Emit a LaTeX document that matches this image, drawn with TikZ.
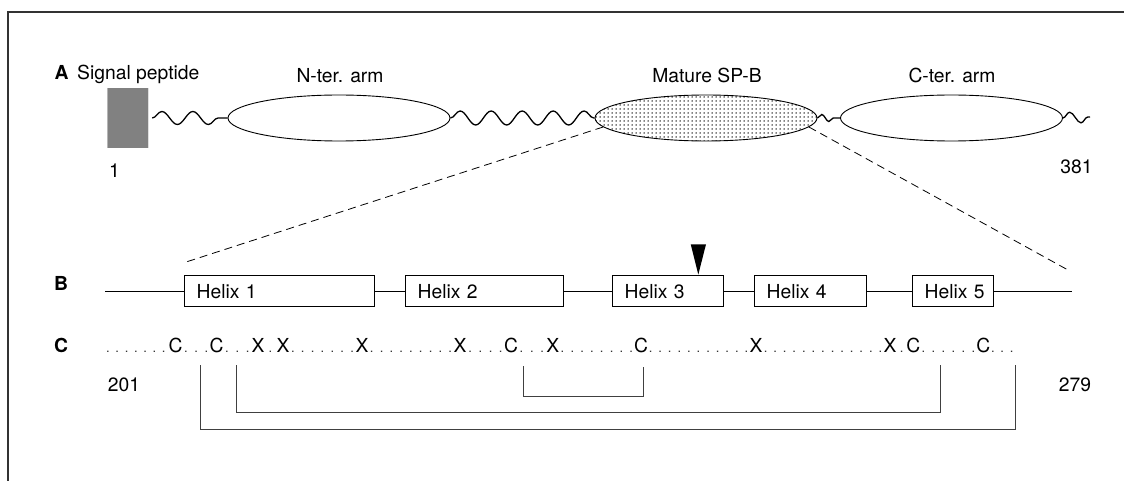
\documentclass[tikz,border=0pt]{standalone}
\usepackage{fontspec}
\setmainfont{TeX Gyre Heros}
\usetikzlibrary{shapes.geometric,patterns,decorations.pathmorphing}
\pgfdeclarepatternformonly{sparsedots}{\pgfqpoint{-1pt}{-1pt}}{\pgfqpoint{1pt}{1pt}}{\pgfqpoint{4pt}{4pt}}{\pgfpathcircle{\pgfqpoint{0pt}{0pt}}{0.75pt}\pgfusepath{fill}}
\pgfdeclarepatternformonly{densedots}{\pgfqpoint{-1pt}{-1pt}}{\pgfqpoint{1pt}{1pt}}{\pgfqpoint{2pt}{2pt}}{\pgfpathcircle{\pgfqpoint{0pt}{0pt}}{0.85pt}\pgfusepath{fill}}
\tikzset{
  lab/.style={font=\fontsize{19.3}{22}\selectfont, inner sep=0pt, anchor=base},
  dotc/.style={font=\fontsize{13}{15}\selectfont, text=black!80, inner sep=0pt, anchor=base},
  sec/.style={font=\fontsize{19.3}{22}\selectfont\bfseries, inner sep=0pt, anchor=base},
  arm/.style={ellipse, draw, line width=0.9pt, minimum width=222pt, minimum height=46pt, inner sep=0pt},
  helix/.style={draw, line width=1.3pt, minimum height=31pt, inner ysep=0pt, inner xsep=0pt,
    anchor=west, align=left, font=\fontsize{19.3}{22}\selectfont},
  thin/.style={line width=0.8pt},
  wave/.style={line width=1.3pt, decorate, decoration={snake, amplitude=#1pt, segment length=31pt}},
  dashes/.style={line width=0.8pt, dash pattern=on 8pt off 5pt},
  bracket/.style={line width=0.8pt, draw=black!75},
}
\newcommand\hx[1]{\hspace*{12pt}#1}
\begin{document}
\begin{tikzpicture}[x=1pt, y=-1pt]
\useasboundingbox (0,0) rectangle (1124,481);
% frame
\draw[line width=1.6pt, black!80] (8,481) -- (8,12) -- (1124,12);

% ---------- A ----------
\node[sec] (labA) at (61.5,80) {A};
\node[lab, anchor=base west] (sigtxt) at (77,80) {Signal peptide};
\node[draw=none, pattern=densedots, minimum width=40.5pt, minimum height=60pt, inner sep=0pt] (sig) at (127.75,118) {};
\node[lab] (one) at (114.5,178) {1};

\node[arm] (nter) at (339,118) {};
\node[arm, pattern=sparsedots] (mature) at (706,118) {};
\node[arm] (cter) at (951.5,118) {};
\node[lab] (ntxt) at (340,83) {N-ter. arm};
\node[lab] (mtxt) at (707,83) {Mature SP-B};
\node[lab] (ctxt) at (952,83) {C-ter. arm};
\node[lab] (n381) at (1076.5,173.3) {381};

\coordinate (sigw) at ([xshift=4pt]sig.east);
\coordinate (tailend) at (1090,117);
\draw[wave=6.5] (sigw) -- (nter.west);
\draw[wave=7] (nter.east) -- (mature.west);
\draw[line width=1.3pt, decorate, decoration={snake, amplitude=3.5pt, segment length=14pt}] (mature.east) -- (cter.west);
\draw[line width=1.3pt, decorate, decoration={snake, amplitude=5.5pt, segment length=22pt}] (cter.east) -- (tailend);

% dashed zoom lines
\coordinate (dl) at (183,263);
\coordinate (dr) at (1068,270);
\draw[dashes] (mature.185) -- (dl);
\draw[dashes] (mature.-5) -- (dr);

% ---------- B ----------
\node[sec] (labB) at (61,290) {B};
\coordinate (bstart) at (105,291.3);
\coordinate (bend) at (1072,291.3);
\node[helix, text width=190pt] (h1) at (184,291.3) {\hx{Helix 1}};
\node[helix, text width=158pt] (h2) at (405,291.3) {\hx{Helix 2}};
\node[helix, text width=111pt] (h3) at (612,291.3) {\hx{Helix 3}};
\node[helix, text width=112pt] (h4) at (754,291.3) {\hx{Helix 4}};
\node[helix, text width=81pt] (h5) at (912,291.3) {\hx{Helix 5}};
\draw[thin] (bstart) -- (h1.west);
\draw[thin] (h1.east) -- (h2.west);
\draw[thin] (h2.east) -- (h3.west);
\draw[thin] (h3.east) -- (h4.west);
\draw[thin] (h4.east) -- (h5.west);
\draw[thin] (h5.east) -- (bend);
\fill (690.7,244.3) -- (706,244.3) -- (698.3,274.5) -- cycle;

% ---------- C ----------
\node[sec] (labC) at (61,352) {C};
\foreach \x/\t [count=\i] in {175.7/C, 216.7/C, 258/X, 283/X, 362/X, 460/X, 511/C, 552.7/X, 641/C, 756/X, 890/X, 913.3/C, 983.3/C}
  \node[lab] (r\i) at (\x,352) {\t};
\foreach \k in {0,...,6}
  \node[dotc] (lead\k) at ({108+9.3*\k},352) {.};
\foreach \a/\b/\n [count=\j] in {175.7/216.7/3, 216.7/258/3, 258/283/1, 283/362/7, 362/460/9, 460/511/4, 511/552.7/3, 552.7/641/8, 641/756/11, 756/890/13, 890/913.3/1, 913.3/983.3/6}
  \foreach \k in {1,...,\n}
    \node[dotc] (d\j-\k) at ({\a+(\b-\a)*\k/(\n+1)},352) {.};
\foreach \x [count=\k] in {992.8, 1002.2, 1011.7}
  \node[dotc] (trail\k) at (\x,352) {.};

\node[lab] (n201) at (124,391.7) {201};
\node[lab] (n279) at (1075,391.7) {279};

% disulfide brackets
\coordinate (o1) at (200,365);   \coordinate (o2) at (1015.7,365);
\coordinate (i1) at (236.7,365); \coordinate (i2) at (940.7,365);
\coordinate (s1) at (523.3,366); \coordinate (s2) at (643.3,367);
\draw[bracket] (o1) -- ++(0,64.3) -| (o2);
\draw[bracket] (i1) -- ++(0,47.7) -| (i2);
\draw[bracket] (s1) -- ++(0,30.7) -| (s2);
\end{tikzpicture}
\end{document}
